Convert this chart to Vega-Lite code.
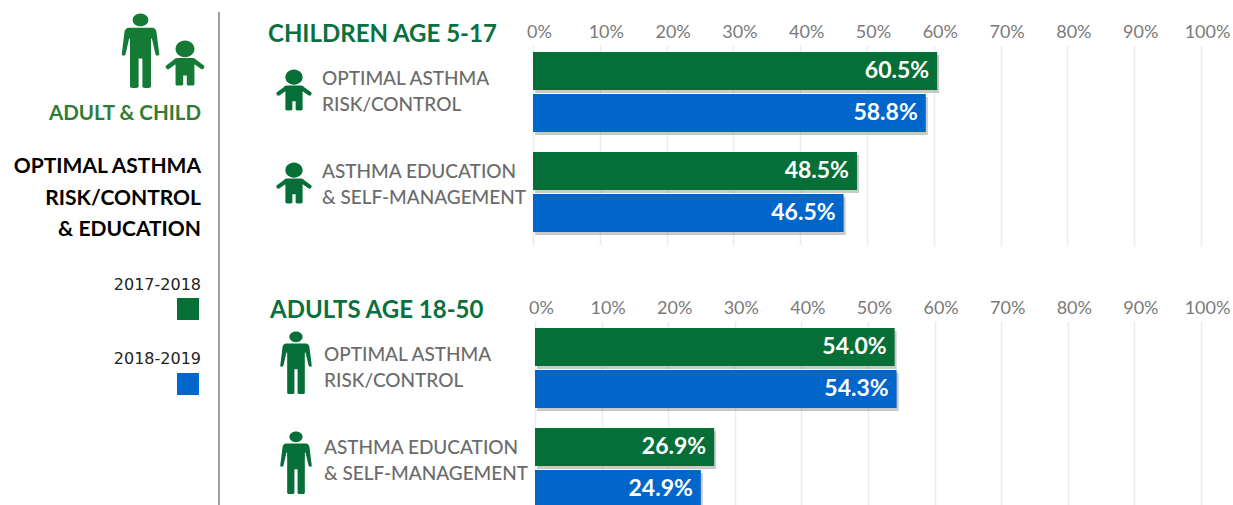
{
"$schema":"https://vega.github.io/schema/vega-lite/v6.json",
"padding":{"top":11,"left":0,"right":0,"bottom":0},
"background":"white",
"columns":3,
"bounds":"flush",
"spacing":{"row":86,"column":0},
"resolve":{"scale":{"x":"independent","y":"independent","color":"independent"}},
"config":{"view":{"stroke":null},"font":"Lato","scale":{"pointPadding":0}},
"datasets":{
"children":[
{"measure":"optimal","period":"2017-2018","value":0.605},
{"measure":"optimal","period":"2018-2019","value":0.588},
{"measure":"education","period":"2017-2018","value":0.485},
{"measure":"education","period":"2018-2019","value":0.465}],
"adults":[
{"measure":"optimal","period":"2017-2018","value":0.54},
{"measure":"optimal","period":"2018-2019","value":0.543},
{"measure":"education","period":"2017-2018","value":0.269},
{"measure":"education","period":"2018-2019","value":0.249}],
"names":[
{"measure":"optimal","name":"OPTIMAL ASTHMA\nRISK/CONTROL"},
{"measure":"education","name":"ASTHMA EDUCATION\n& SELF-MANAGEMENT"}]
},
"concat":[
{"width":219,"height":190,
"layer":[
{"data":{"values":[{"who":"adult"}]},
"mark":{"type":"point","filled":true,"opacity":1,"color":"#157a35","size":5625,"shape":"M0,-1 C.12,-1 .21,-.92 .21,-.83 C.21,-.74 .12,-.66 0,-.66 C-.12,-.66 -.21,-.74 -.21,-.83 C-.21,-.92 -.12,-1 0,-1Z M-.3,-.62 L.3,-.62 C.4,-.62 .42,-.55 .43,-.48 L.5,.08 C.5,.13 .42,.14 .4,.09 L.3,-.35 L.28,-.3 L.28,.95 C.28,1 .05,1 .05,.95 L.05,.2 L-.05,.2 L-.05,.95 C-.05,1 -.28,1 -.28,.95 L-.28,-.3 L-.3,-.35 L-.4,.09 C-.42,.14 -.5,.13 -.5,.08 L-.43,-.48 C-.42,-.55 -.4,-.62 -.3,-.62Z"},
"encoding":{"x":{"field":"who","type":"nominal","axis":null,"scale":{"type":"point","domain":["adult","child"],"range":[140.5,185]}},
"y":{"field":"who","type":"nominal","axis":null,"scale":{"type":"point","domain":["adult","child"],"range":[9,21]}}}},
{"data":{"values":[{"who":"child"}]},
"mark":{"type":"point","filled":true,"opacity":1,"color":"#157a35","size":2025,"shape":"M0,-1 C.24,-1 .42,-.82 .42,-.62 C.42,-.42 .24,-.26 0,-.26 C-.24,-.26 -.42,-.42 -.42,-.62 C-.42,-.82 -.24,-1 0,-1Z M-.35,-.22 L.35,-.22 C.42,-.22 .46,-.18 .5,-.14 L.85,.12 C.9,.2 .78,.32 .7,.26 L.42,.06 L.42,.95 C.42,1.02 .08,1.02 .08,.95 L.08,.55 L-.08,.55 L-.08,.95 C-.08,1.02 -.42,1.02 -.42,.95 L-.42,.06 L-.7,.26 C-.78,.32 -.9,.2 -.85,.12 L-.5,-.14 C-.46,-.18 -.42,-.22 -.35,-.22Z"},
"encoding":{"x":{"field":"who","type":"nominal","axis":null,"scale":{"type":"point","domain":["adult","child"],"range":[140.5,185]}},
"y":{"field":"who","type":"nominal","axis":null,"scale":{"type":"point","domain":["adult","child"],"range":[9,21]}}}},
{"data":{"values":[{"line":"ADULT & CHILD"}]},
"mark":{"type":"text","align":"right","baseline":"middle","font":"Lato","fontWeight":"bold","fontSize":20.5,"color":"#2f7d32"},
"encoding":{"text":{"field":"line"},
"x":{"field":"line","type":"nominal","axis":null,"scale":{"type":"point","domain":["ADULT & CHILD","head"],"range":[201,201.5]}},
"y":{"field":"line","type":"nominal","axis":null,"scale":{"type":"point","domain":["ADULT & CHILD","head"],"range":[72,125]}}}},
{"data":{"values":[{"line":"OPTIMAL ASTHMA\nRISK/CONTROL\n& EDUCATION","key":"head"}]},
"mark":{"type":"text","align":"right","baseline":"middle","font":"Lato","fontWeight":"bold","fontSize":21,"color":"#000000","lineBreak":"\n","lineHeight":31.5},
"encoding":{"text":{"field":"line"},
"x":{"field":"key","type":"nominal","axis":null,"scale":{"type":"point","domain":["head","other"],"range":[201,202]}},
"y":{"field":"key","type":"nominal","axis":null,"scale":{"type":"point","domain":["head","other"],"range":[125,200]}}}},
{"data":{"values":[{"item":"2017-2018","part":"label"}]},
"mark":{"type":"text","align":"right","baseline":"middle","font":"DejaVu Sans","fontSize":16,"color":"#222222"},
"encoding":{"text":{"field":"item"},
"x":{"field":"part","type":"nominal","axis":null,"scale":{"type":"point","domain":["swatch","label"],"range":[188,201]}},
"y":{"field":"part","type":"nominal","axis":null,"scale":{"type":"point","domain":["label","swatch"],"range":[243,267]}}}},
{"data":{"values":[{"item":"2017-2018","part":"swatch"}]},
"mark":{"type":"square","size":484,"opacity":1,"color":"#056f37"},
"encoding":{
"x":{"field":"part","type":"nominal","axis":null,"scale":{"type":"point","domain":["swatch","label"],"range":[188,201]}},
"y":{"field":"part","type":"nominal","axis":null,"scale":{"type":"point","domain":["label","swatch"],"range":[243,267]}}}},
{"data":{"values":[{"part":"divider","from":"top","to":"bottom"}]},
"mark":{"type":"rule","color":"#7f7f7f","strokeWidth":1.5},
"encoding":{
"x":{"field":"part","type":"nominal","axis":null,"scale":{"type":"point","domain":["divider","other"],"range":[219,220]}},
"y":{"field":"from","type":"nominal","axis":null,"scale":{"type":"point","domain":["top","bottom"],"range":[-30,463]}},
"y2":{"field":"to"}}}
],
"resolve":{"scale":{"x":"independent","y":"independent"}}},
{"width":314,"height":190,
"title":{"text":"CHILDREN AGE 5-17","anchor":"start","dx":49,"offset":-5,"font":"Lato","fontWeight":"bold","fontSize":24,"color":"#0a7040"},
"layer":[
{"data":{"name":"names"},
"mark":{"type":"point","filled":true,"opacity":1,"color":"#056f37","size":1681,"shape":"M0,-1 C.24,-1 .42,-.82 .42,-.62 C.42,-.42 .24,-.26 0,-.26 C-.24,-.26 -.42,-.42 -.42,-.62 C-.42,-.82 -.24,-1 0,-1Z M-.35,-.22 L.35,-.22 C.42,-.22 .46,-.18 .5,-.14 L.85,.12 C.9,.2 .78,.32 .7,.26 L.42,.06 L.42,.95 C.42,1.02 .08,1.02 .08,.95 L.08,.55 L-.08,.55 L-.08,.95 C-.08,1.02 -.42,1.02 -.42,.95 L-.42,.06 L-.7,.26 C-.78,.32 -.9,.2 -.85,.12 L-.5,-.14 C-.46,-.18 -.42,-.22 -.35,-.22Z"},
"encoding":{"x":{"datum":"icon","type":"nominal","axis":null,"scale":{"type":"point","domain":["icon","label"],"range":[75,103]}},
"y":{"field":"measure","type":"nominal","axis":null,"scale":{"type":"point","domain":["optimal","education"],"range":[48,141]}}}},
{"data":{"name":"names"},
"mark":{"type":"text","align":"left","baseline":"middle","font":"Lato","fontWeight":500,"fontSize":19,"color":"#6b6b6b","lineBreak":"\n","lineHeight":26},
"encoding":{"text":{"field":"name"},
"x":{"datum":"label","type":"nominal","axis":null,"scale":{"type":"point","domain":["icon","label"],"range":[75,103]}},
"y":{"field":"measure","type":"nominal","axis":null,"scale":{"type":"point","domain":["optimal","education"],"range":[37,130]}}}}
],
"resolve":{"scale":{"y":"independent"}}},
{"width":668,"height":190,
"data":{"name":"children"},
"encoding":{
"x":{"field":"value","type":"quantitative","scale":{"domain":[0,1],"range":[0,668]},
"axis":{"orient":"top","title":null,"format":".0%","values":[0,0.1,0.2,0.3,0.4,0.5,0.6,0.7,0.8,0.9,1],"domain":false,"ticks":false,"grid":true,"gridColor":"#ebebeb","gridWidth":1.5,"labelFont":"Lato","labelFontSize":18,"labelColor":"#7a7a7a","labelPadding":1,"labelOffset":6,"labelFlush":false,"labelOverlap":false,"labelBaseline":"bottom"}},
"yOffset":{"field":"period","type":"nominal","scale":{"domain":["2017-2018","2018-2019"],"paddingInner":0.1}}
},
"layer":[
{"mark":{"type":"bar","color":"#777777","opacity":0.4,"xOffset":2},
"encoding":{"y":{"field":"measure","type":"nominal","axis":null,"scale":{"domain":["optimal","education"],"range":[3,203],"paddingInner":0.2,"paddingOuter":0.1}}}},
{"mark":{"type":"bar"},"encoding":{
"y":{"field":"measure","type":"nominal","axis":null,"scale":{"domain":["optimal","education"],"range":[0,200],"paddingInner":0.2,"paddingOuter":0.1}},
"color":{"field":"period","type":"nominal","legend":null,"scale":{"domain":["2017-2018","2018-2019"],"range":["#056f37","#0066cc"]}}}},
{"mark":{"type":"text","align":"right","baseline":"middle","dx":-8,"font":"Lato","fontWeight":"bold","fontSize":23,"color":"#ffffff"},
"encoding":{
"y":{"field":"measure","type":"nominal","axis":null,"scale":{"domain":["optimal","education"],"range":[0,200],"paddingInner":0.2,"paddingOuter":0.1}},
"text":{"field":"value","type":"quantitative","format":".1%"}}}
],
"resolve":{"scale":{"y":"independent"}}},
{"width":219,"height":187,
"layer":[
{"data":{"values":[{"item":"2018-2019","part":"label"}]},
"mark":{"type":"text","align":"right","baseline":"middle","font":"DejaVu Sans","fontSize":16,"color":"#222222"},
"encoding":{"text":{"field":"item"},
"x":{"field":"part","type":"nominal","axis":null,"scale":{"type":"point","domain":["swatch","label"],"range":[188,201]}},
"y":{"field":"part","type":"nominal","axis":null,"scale":{"type":"point","domain":["label","swatch"],"range":[41,66]}}}},
{"data":{"values":[{"item":"2018-2019","part":"swatch"}]},
"mark":{"type":"square","size":484,"opacity":1,"color":"#0066cc"},
"encoding":{
"x":{"field":"part","type":"nominal","axis":null,"scale":{"type":"point","domain":["swatch","label"],"range":[188,201]}},
"y":{"field":"part","type":"nominal","axis":null,"scale":{"type":"point","domain":["label","swatch"],"range":[41,66]}}}}
]},
{"width":314,"height":187,
"title":{"text":"ADULTS AGE 18-50","anchor":"start","dx":51,"offset":-5,"font":"Lato","fontWeight":"bold","fontSize":24,"color":"#0a7040"},
"layer":[
{"data":{"name":"names"},
"mark":{"type":"point","filled":true,"opacity":1,"color":"#056f37","size":3969,"shape":"M0,-1 C.12,-1 .21,-.92 .21,-.83 C.21,-.74 .12,-.66 0,-.66 C-.12,-.66 -.21,-.74 -.21,-.83 C-.21,-.92 -.12,-1 0,-1Z M-.3,-.62 L.3,-.62 C.4,-.62 .42,-.55 .43,-.48 L.5,.08 C.5,.13 .42,.14 .4,.09 L.3,-.35 L.28,-.3 L.28,.95 C.28,1 .05,1 .05,.95 L.05,.2 L-.05,.2 L-.05,.95 C-.05,1 -.28,1 -.28,.95 L-.28,-.3 L-.3,-.35 L-.4,.09 C-.42,.14 -.5,.13 -.5,.08 L-.43,-.48 C-.42,-.55 -.4,-.62 -.3,-.62Z"},
"encoding":{"x":{"datum":"icon","type":"nominal","axis":null,"scale":{"type":"point","domain":["icon","label"],"range":[77,105]}},
"y":{"field":"measure","type":"nominal","axis":null,"scale":{"type":"point","domain":["optimal","education"],"range":[45,145]}}}},
{"data":{"name":"names"},
"mark":{"type":"text","align":"left","baseline":"middle","font":"Lato","fontWeight":500,"fontSize":19,"color":"#6b6b6b","lineBreak":"\n","lineHeight":26},
"encoding":{"text":{"field":"name"},
"x":{"datum":"label","type":"nominal","axis":null,"scale":{"type":"point","domain":["icon","label"],"range":[77,105]}},
"y":{"field":"measure","type":"nominal","axis":null,"scale":{"type":"point","domain":["optimal","education"],"range":[37,130]}}}}
],
"resolve":{"scale":{"y":"independent"}}},
{"width":668,"height":187,
"data":{"name":"adults"},
"encoding":{
"x":{"field":"value","type":"quantitative","scale":{"domain":[0,1],"range":[2,668]},
"axis":{"orient":"top","title":null,"format":".0%","values":[0,0.1,0.2,0.3,0.4,0.5,0.6,0.7,0.8,0.9,1],"domain":false,"ticks":false,"grid":true,"gridColor":"#ebebeb","gridWidth":1.5,"labelFont":"Lato","labelFontSize":18,"labelColor":"#7a7a7a","labelPadding":1,"labelOffset":6,"labelFlush":false,"labelOverlap":false,"labelBaseline":"bottom"}},
"yOffset":{"field":"period","type":"nominal","scale":{"domain":["2017-2018","2018-2019"],"paddingInner":0.1}}
},
"layer":[
{"mark":{"type":"bar","color":"#777777","opacity":0.4,"xOffset":2,"clip":true},
"encoding":{"y":{"field":"measure","type":"nominal","axis":null,"scale":{"domain":["optimal","education"],"range":[3,203],"paddingInner":0.2,"paddingOuter":0.1}}}},
{"mark":{"type":"bar","clip":true},"encoding":{
"y":{"field":"measure","type":"nominal","axis":null,"scale":{"domain":["optimal","education"],"range":[0,200],"paddingInner":0.2,"paddingOuter":0.1}},
"color":{"field":"period","type":"nominal","legend":null,"scale":{"domain":["2017-2018","2018-2019"],"range":["#056f37","#0066cc"]}}}},
{"mark":{"type":"text","align":"right","baseline":"middle","dx":-8,"font":"Lato","fontWeight":"bold","fontSize":23,"color":"#ffffff"},
"encoding":{
"y":{"field":"measure","type":"nominal","axis":null,"scale":{"domain":["optimal","education"],"range":[0,200],"paddingInner":0.2,"paddingOuter":0.1}},
"text":{"field":"value","type":"quantitative","format":".1%"}}}
],
"resolve":{"scale":{"y":"independent"}}}
]
}
